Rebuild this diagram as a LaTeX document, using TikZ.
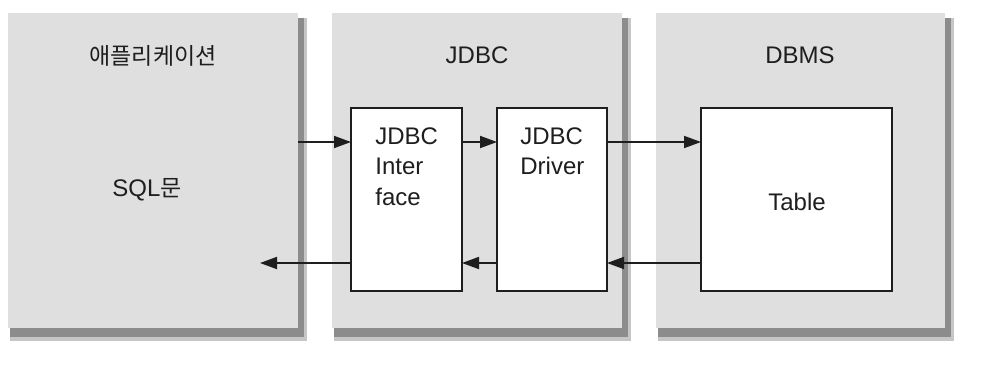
\documentclass[tikz,border=0pt]{standalone}
\usepackage{fontspec}
\setmainfont{Liberation Sans}
\newfontfamily\kofont{Noto Sans CJK KR}
\usetikzlibrary{arrows.meta,backgrounds}
\definecolor{panelgray}{HTML}{DFDFDF}
\definecolor{shadowdark}{HTML}{8C8C8C}
\definecolor{shadowlight}{HTML}{C6C6C6}
\definecolor{ink}{HTML}{1E1E1E}
\begin{document}
\begin{tikzpicture}[x=0.5pt,y=-0.5pt,
  font=\fontsize{12}{15.25}\selectfont, text=ink,
  panel/.style={fill=panelgray, inner sep=0pt, outer sep=0pt, anchor=north west, minimum height=157.5pt},
  box/.style={draw=ink, line width=0.9pt, fill=white, inner sep=0pt, outer sep=0pt, anchor=north west, minimum height=91.5pt},
  arr/.style={draw=ink, line width=0.9pt, -{Triangle[length=8.5pt,width=6pt]}},
  title/.style={inner sep=0pt},
  btext/.style={inner sep=0pt, anchor=north west, align=left}
]
\useasboundingbox (0,0) rectangle (988,369);
% panels
\node[panel, minimum width=145pt] (p1) at (8,13) {};
\node[panel, minimum width=145pt] (p2) at (332,13) {};
\node[panel, minimum width=144.5pt] (p3) at (656,13) {};
\begin{pgfonlayer}{background}
  \fill[white] (0,0) rectangle (988,369);
  \foreach \p in {p1,p2,p3} {
    \fill[shadowlight] ([xshift=1pt,yshift=-2.5pt]\p.north west) rectangle ([xshift=4.5pt,yshift=-6.5pt]\p.south east);
    \fill[shadowdark] ([xshift=1pt,yshift=-2.5pt]\p.north west) rectangle ([xshift=3pt,yshift=-4.5pt]\p.south east);
  }
\end{pgfonlayer}
% titles
\node[title] (t1) at (153,56) {\kofont\fontsize{11.5}{13}\selectfont 애플리케이션};
\node[title] (t2) at (477,55) {JDBC};
\node[title] (t3) at (800,55) {DBMS};
\node[title] (sql) at (147,190) {SQL{\kofont\fontsize{11.5}{13}\selectfont 문}};
% boxes
\node[box, minimum width=55.5pt] (iface) at (351,108) {};
\node[box, minimum width=55pt] (driver) at (497,108) {};
\node[box, minimum width=95.5pt] (table) at (701,108) {};
\node[btext] (ifacetxt) at (375,127) {JDBC\\Inter\\face};
\node[btext] (drivertxt) at (520,127) {JDBC\\Driver};
\node[title] (tabletxt) at (797,202) {Table};
% connectors
\coordinate (up) at (0,142);
\coordinate (lo) at (0,263);
\coordinate (ret) at (260,263);
\draw[arr] (p1.east |- up) -- (iface.west |- up);
\draw[arr] (iface.east |- up) -- (driver.west |- up);
\draw[arr] (driver.east |- up) -- (table.west |- up);
\draw[arr] (table.west |- lo) -- (driver.east |- lo);
\draw[arr] (driver.west |- lo) -- (iface.east |- lo);
\draw[arr] (iface.west |- lo) -- (ret);
\end{tikzpicture}
\end{document}
